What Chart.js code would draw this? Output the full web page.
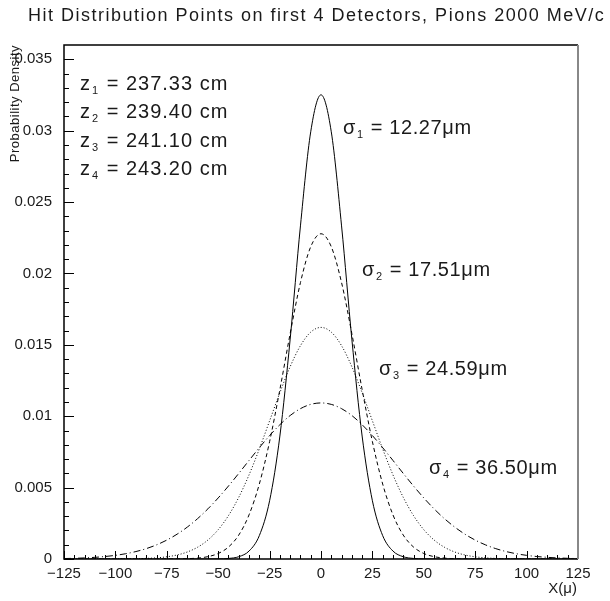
<!DOCTYPE html>
<html>
<head>
<meta charset="utf-8">
<script src="https://cdn.jsdelivr.net/npm/chart.js@4.4.1/dist/chart.umd.min.js"></script>
<style>
  html, body { margin: 0; padding: 0; background: #fff; }
  #wrap { width: 610px; height: 601px; }
</style>
</head>
<body>
<div id="wrap"><canvas id="c" width="610" height="601"></canvas></div>
<script>
const xs = [-125,-120,-115,-110,-105,-100,-95,-90,-85,-80,-75,-70,-65,-60,-55,-50,-45,-40,-35,-30,-25,-20,-15,-10,-5,
  0,5,10,15,20,25,30,35,40,45,50,55,60,65,70,75,80,85,90,95,100,105,110,115,120,125];

// probability density, detector 1..4
const det1 = [0,0,0,0,0,0,0,0,0,0,0,0,0,0,0.0000014,0.0000081,0.000039,0.00016,0.000556,0.001637,0.004079,0.008613,0.0154,0.02333,0.02992,
  0.03251,0.02992,0.02333,0.0154,0.008613,0.004079,0.001637,0.000556,0.00016,0.000039,0.0000081,0.0000014,0,0,0,0,0,0,0,0,0,0,0,0,0,0];
const det2 = [0,0,0,0,0,0,0,0,0,0,0,0.0000077,0.0000232,0.0000642,0.000164,0.000386,0.000838,0.001677,0.003091,0.005251,0.008222,0.01187,0.01579,0.01936,0.02187,
  0.02278,0.02187,0.01936,0.01579,0.01187,0.008222,0.005251,0.003091,0.001677,0.000838,0.000386,0.000164,0.0000642,0.0000232,0.0000077,0,0,0,0,0,0,0,0,0,0,0];
const det3 = [0,0,0,0,0,0.0000042,0.0000093,0.00002,0.0000413,0.0000816,0.000155,0.000282,0.000493,0.000827,0.00133,0.002053,0.003041,0.004321,0.005892,0.007708,0.009677,0.01165,0.01347,0.01494,0.01589,
  0.01622,0.01589,0.01494,0.01347,0.01165,0.009677,0.007708,0.005892,0.004321,0.003041,0.002053,0.00133,0.000827,0.000493,0.000282,0.000155,0.0000816,0.0000413,0.00002,0.0000093,0.0000042,0,0,0,0,0];
const det4 = [0.000031,0.0000492,0.0000764,0.000117,0.000174,0.000256,0.000369,0.000523,0.000726,0.00099,0.001324,0.001738,0.002239,0.00283,0.003512,0.004277,0.005112,0.005996,0.006902,0.007797,0.008645,0.009406,0.01005,0.01053,0.01083,
  0.01093,0.01083,0.01053,0.01005,0.009406,0.008645,0.007797,0.006902,0.005996,0.005112,0.004277,0.003512,0.00283,0.002239,0.001738,0.001324,0.00099,0.000726,0.000523,0.000369,0.000256,0.000174,0.000117,0.0000764,0.0000492,0.000031];

const xTicks = [-125,-100,-75,-50,-25,0,25,50,75,100,125];
const yTicks = [0,0.005,0.01,0.015,0.02,0.025,0.03,0.035];

const zLabels = ['237.33', '239.40', '241.10', '243.20'];
const sigmaLabels = ['12.27', '17.51', '24.59', '36.50'];

const FONT = '"Liberation Sans", Arial, sans-serif';

const dashes = [[], [4, 3], [1, 2], [7, 3, 1, 3]];
const series = [det1, det2, det3, det4];

const toPts = arr => arr.map((v, i) => ({ x: xs[i], y: v }));

// base letter + small subscript + rest of the line
function subText(ctx, x, y, base, sub, rest, size) {
  ctx.font = size + 'px ' + FONT;
  ctx.fillText(base, x, y);
  let cx = x + ctx.measureText(base).width;
  ctx.font = Math.round(size * 0.55) + 'px ' + FONT;
  ctx.fillText(sub, cx + 1, y + size * 0.2);
  cx += ctx.measureText(sub).width + 2;
  ctx.font = size + 'px ' + FONT;
  ctx.fillText(rest, cx, y);
}

const decor = {
  id: 'decor',
  afterDraw(chart) {
    const { ctx, chartArea: a, scales: { x, y } } = chart;
    ctx.save();
    ctx.strokeStyle = '#000';
    ctx.lineWidth = 1;

    // inward ticks
    ctx.beginPath();
    for (let v = -125; v <= 125; v += 5) {
      const px = Math.round(x.getPixelForValue(v)) + 0.5;
      const len = v % 25 === 0 ? 8 : 4;
      ctx.moveTo(px, a.bottom);
      ctx.lineTo(px, a.bottom - len);
    }
    for (let i = 0; i <= 35; i++) {
      const py = Math.round(y.getPixelForValue(i / 1000)) + 0.5;
      const len = i % 5 === 0 ? 10 : 5;
      ctx.moveTo(a.left, py);
      ctx.lineTo(a.left + len, py);
    }
    ctx.stroke();

    // frame
    ctx.lineWidth = 1.5;
    ctx.beginPath();
    ctx.moveTo(a.right, a.top);
    ctx.lineTo(a.left, a.top);
    ctx.lineTo(a.left, a.bottom);
    ctx.lineTo(a.right, a.bottom);
    ctx.stroke();
    ctx.strokeStyle = '#888';
    ctx.lineWidth = 2;
    ctx.beginPath();
    ctx.moveTo(a.right, a.top);
    ctx.lineTo(a.right, a.bottom);
    ctx.stroke();

    ctx.fillStyle = '#1a1a1a';
    ctx.textBaseline = 'alphabetic';
    ctx.textAlign = 'left';

    // title
    ctx.font = '18px ' + FONT;
    ctx.letterSpacing = '1.5px';
    ctx.fillText('Hit Distribution Points on first 4 Detectors, Pions 2000 MeV/c', 28, 21);

    // y title
    ctx.save();
    ctx.translate(19, 45);
    ctx.rotate(-Math.PI / 2);
    ctx.textAlign = 'right';
    ctx.letterSpacing = '0.5px';
    ctx.font = '13px ' + FONT;
    ctx.fillText('Probability Density', 0, 0);
    ctx.restore();

    // x title
    ctx.letterSpacing = '0px';
    ctx.font = '15px ' + FONT;
    ctx.textAlign = 'right';
    ctx.fillText('X(\u03bc)', 577, 593);
    ctx.textAlign = 'left';

    // z positions
    ctx.letterSpacing = '1px';
    const zy = [90, 118, 147, 175];
    zLabels.forEach((t, i) => subText(ctx, 80, zy[i], 'z', String(i + 1), ' = ' + t + ' cm', 20));

    // sigma labels
    ctx.letterSpacing = '0.6px';
    const sp = [[343, 134], [362, 276], [379, 375], [429, 474]];
    sigmaLabels.forEach((t, i) => subText(ctx, sp[i][0], sp[i][1], '\u03c3', String(i + 1), ' = ' + t + '\u03bcm', 20));

    ctx.restore();
  }
};

new Chart(document.getElementById('c'), {
  type: 'line',
  data: {
    datasets: series.map((s, i) => ({
      label: 'det ' + (i + 1),
      data: toPts(s),
      borderColor: '#000',
      borderWidth: 1,
      borderDash: dashes[i],
      pointRadius: 0,
      fill: false,
      cubicInterpolationMode: 'monotone'
    }))
  },
  options: {
    responsive: false,
    animation: false,
    events: [],
    layout: { padding: { top: 45, right: 32, left: 0, bottom: 0 } },
    plugins: { legend: { display: false }, tooltip: { enabled: false }, title: { display: false } },
    scales: {
      x: {
        type: 'linear',
        min: -125, max: 125,
        afterFit: s => { s.height = 42; },
        afterBuildTicks: s => { s.ticks = xTicks.map(v => ({ value: v })); },
        grid: { display: false, drawTicks: false },
        border: { display: false },
        ticks: {
          padding: 6,
          color: '#1a1a1a',
          font: { family: FONT, size: 15 },
          maxRotation: 0,
          callback: v => (v < 0 ? '\u2212' + Math.abs(v) : String(v))
        }
      },
      y: {
        min: 0, max: 0.036,
        afterFit: s => { s.width = 64; },
        afterBuildTicks: s => { s.ticks = yTicks.map(v => ({ value: v })); },
        grid: { display: false, drawTicks: false },
        border: { display: false },
        ticks: {
          padding: 12,
          color: '#1a1a1a',
          font: { family: FONT, size: 15 },
          callback: v => String(Math.round(v * 1000) / 1000)
        }
      }
    }
  },
  plugins: [decor]
});
</script>
</body>
</html>
